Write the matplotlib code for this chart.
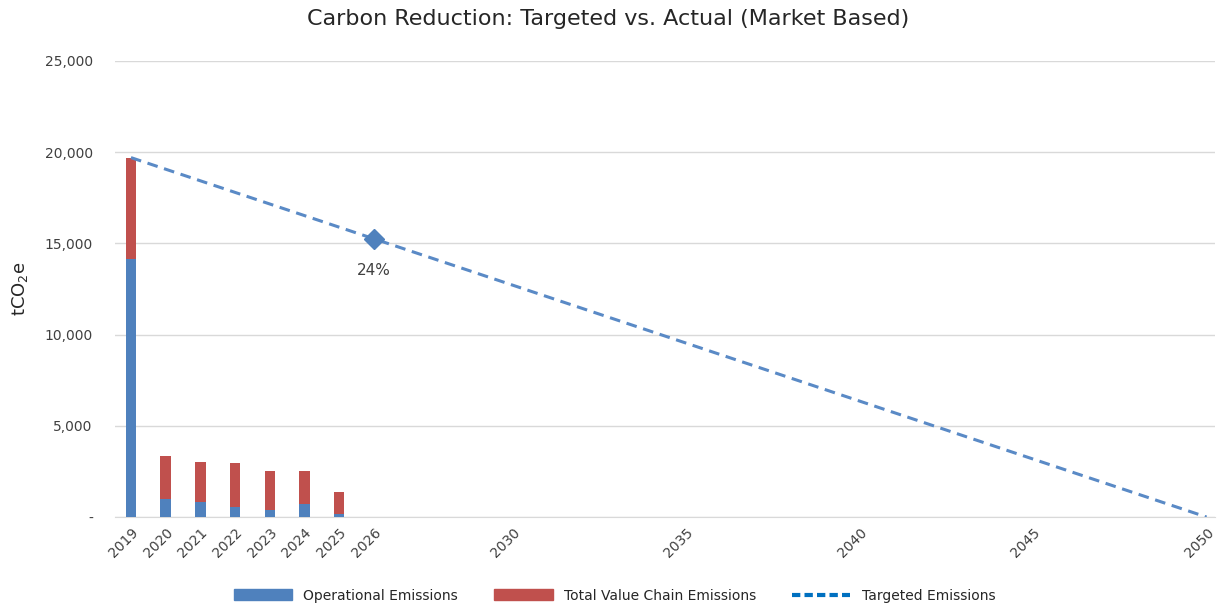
import numpy as np
import matplotlib.pyplot as plt
from matplotlib.lines import Line2D
from matplotlib.patches import Patch

# Actual emissions (tCO2e)
years = [2019, 2020, 2021, 2022, 2023, 2024, 2025]
operational = [14150, 970, 800, 550, 400, 710, 150]
value_chain = [5550, 2390, 2230, 2410, 2140, 1830, 1240]

# Target path: straight line from 2019 baseline to net zero in 2050
target_years = [2019, 2050]
target_values = [19700, 0]
marker_year = 2026
marker_value = 15250
marker_label = '24%'

tick_years = [2019, 2020, 2021, 2022, 2023, 2024, 2025, 2026, 2030, 2035, 2040, 2045, 2050]
y_ticks = [0, 5000, 10000, 15000, 20000, 25000]
y_ticklabels = ['-', '5,000', '10,000', '15,000', '20,000', '25,000']

blue = '#4F81BD'
red = '#C0504D'
line_blue = '#5A8AC6'

fig = plt.figure(figsize=(12.17, 6.09), dpi=100)
ax = fig.add_axes([0.0945, 0.151, 0.9035, 0.749])

ax.bar(years, operational, width=0.3, color=blue, zorder=3)
ax.bar(years, value_chain, width=0.3, bottom=operational, color=red, zorder=3)

ax.plot(target_years, target_values, color=line_blue, lw=2.2, ls=(0, (3.5, 2.2)), zorder=4)
ax.plot([marker_year], [marker_value], marker='D', ms=10, color=blue, ls='none', zorder=5)
ax.annotate(marker_label, (marker_year, marker_value), xytext=(0, -28), textcoords='offset points',
            ha='center', va='bottom', fontsize=11, color='#404040')

ax.set_xlim(2018.54, 2050.23)
ax.set_ylim(0, 25000)
ax.set_yticks(y_ticks)
ax.set_yticklabels(y_ticklabels)
ax.set_xticks(tick_years)
ax.set_xticklabels([str(y) for y in tick_years], rotation=45, ha='right', va='top',
                   rotation_mode='anchor')
ax.tick_params(axis='both', length=0, labelsize=10, labelcolor='#404040')
ax.tick_params(axis='y', pad=16)
ax.tick_params(axis='x', pad=6)

ax.grid(axis='y', color='#D9D9D9', lw=1, zorder=0)
for s in ['top', 'right', 'left']:
    ax.spines[s].set_visible(False)
ax.spines['bottom'].set_color('#D9D9D9')

ax.set_ylabel('tCO$_2$e', fontsize=13, color='#262626')
ax.yaxis.set_label_coords(-0.077, 0.5)
fig.suptitle('Carbon Reduction: Targeted vs. Actual (Market Based)', fontsize=16,
             color='#262626', y=0.985)

handles = [Patch(color=blue), Patch(color=red),
           Line2D([0], [0], color='#0070C0', lw=3, ls=(0, (2, 1)))]
labels = ['Operational Emissions', 'Total Value Chain Emissions', 'Targeted Emissions']
fig.legend(handles, labels, loc='lower center', bbox_to_anchor=(0.505, -0.01), ncol=3,
           frameon=False, fontsize=10, handlelength=4.2, handleheight=0.8,
           columnspacing=2.6, labelcolor='#262626')

fig.savefig('out.png', dpi=100)
